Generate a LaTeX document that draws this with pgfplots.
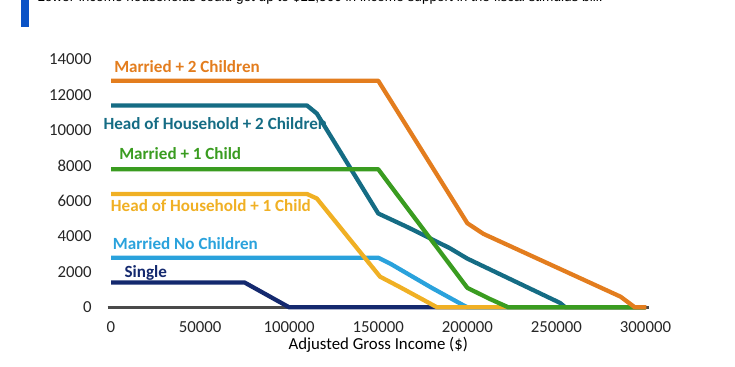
\documentclass[border=0pt]{standalone}
\usepackage{pgfplots}
\pgfplotsset{compat=1.18}
\usepackage{fontspec}
\setmainfont{Carlito}
\newfontfamily\arialf{Liberation Sans}
\definecolor{cOrange}{HTML}{E37D1E}
\definecolor{cTeal}{HTML}{156C84}
\definecolor{cGreen}{HTML}{3A9C20}
\definecolor{cYellow}{HTML}{F0B024}
\definecolor{cLBlue}{HTML}{2AA2DC}
\definecolor{cNavy}{HTML}{14296E}
\definecolor{cBar}{HTML}{0A52C6}
\definecolor{cAxis}{HTML}{4A4A4A}
\begin{document}
\begin{tikzpicture}
\useasboundingbox (0,0) rectangle (551.25pt,275.25pt);
\begin{scope}[x=0.75pt,y=-0.75pt,yshift=275.25pt]
\fill[cBar] (20.7,-5) rectangle (29.3,27.3);
\node[anchor=base west,inner sep=0,font=\arialf\fontsize{10.2}{12}\selectfont] at (37,1.7) {Lower-income households could get up to \$12,500 in income support in the fiscal stimulus bill.};
\begin{scope}[every node/.style={anchor=base west,inner sep=0,font=\bfseries\fontsize{12.8}{14}\selectfont}]
\node[text=cOrange] at (114,72.3) {Married + 2 Children};
\node[text=cTeal] at (103.3,129.3) {Head of Household + 2 Children};
\node[text=cGreen] at (119,160) {Married + 1 Child};
\node[text=cYellow] at (110.7,211.5) {Head of Household + 1 Child};
\node[text=cLBlue] at (112.7,250) {Married No Children};
\node[text=cNavy] at (124.3,277.3) {Single};
\end{scope}
\end{scope}
\begin{axis}[
  at={(83.25pt,44.775pt)}, anchor=south west,
  scale only axis, width=400.875pt, height=185.85pt,
  xmin=0, xmax=300000, ymin=0, ymax=14000,
  enlargelimits=false, clip=false,
  scaled ticks=false,
  axis line style={draw=none},
  major tick style={draw=none},
  xtick={0,50000,100000,150000,200000,250000,300000},
  xticklabels={0,50000,100000,150000,200000,250000,300000},
  ytick={0,2000,4000,6000,8000,10000,12000,14000},
  yticklabels={0,2000,4000,6000,8000,10000,12000,14000},
  /pgf/number format/assume math mode=true,
  ticklabel style={font=\fontsize{12.6}{14}\selectfont, text=black!85},
  xticklabel style={yshift=-7.5pt},
  yticklabel style={xshift=-11pt},
  every axis plot/.style={line width=3.2pt, line join=round, line cap=butt},
]
\addplot[cAxis, line width=2.2pt] coordinates {(-1900,0) (302000,0)};
\addplot[cNavy] coordinates {(0,1400) (75000,1400) (100000,0) (300000,0)};
\addplot[cLBlue] coordinates {(0,2800) (150000,2800) (157000,2450) (180000,1100) (197500,130) (200000,0) (300000,0)};
\addplot[cTeal] coordinates {(0,11400) (110000,11400) (115500,10950) (150000,5300) (166000,4550) (190000,3350) (200000,2750) (252000,250) (255000,0) (300000,0)};
\addplot[cYellow] coordinates {(0,6400) (110000,6400) (115500,6150) (151000,1730) (162000,1150) (183000,0) (300000,0)};
\addplot[cGreen] coordinates {(0,7800) (150000,7800) (160000,6450) (200000,1100) (212000,500) (223000,0) (300000,0)};
\addplot[cOrange] coordinates {(0,12800) (150000,12800) (200000,4750) (209000,4150) (286000,600) (294000,0) (300500,0)};
\node[anchor=base, inner sep=0, font=\fontsize{12.6}{14}\selectfont, text=black] at (axis cs:150000,0) [yshift=-32pt] {Adjusted Gross Income (\$)};
\end{axis}
\end{tikzpicture}
\end{document}
